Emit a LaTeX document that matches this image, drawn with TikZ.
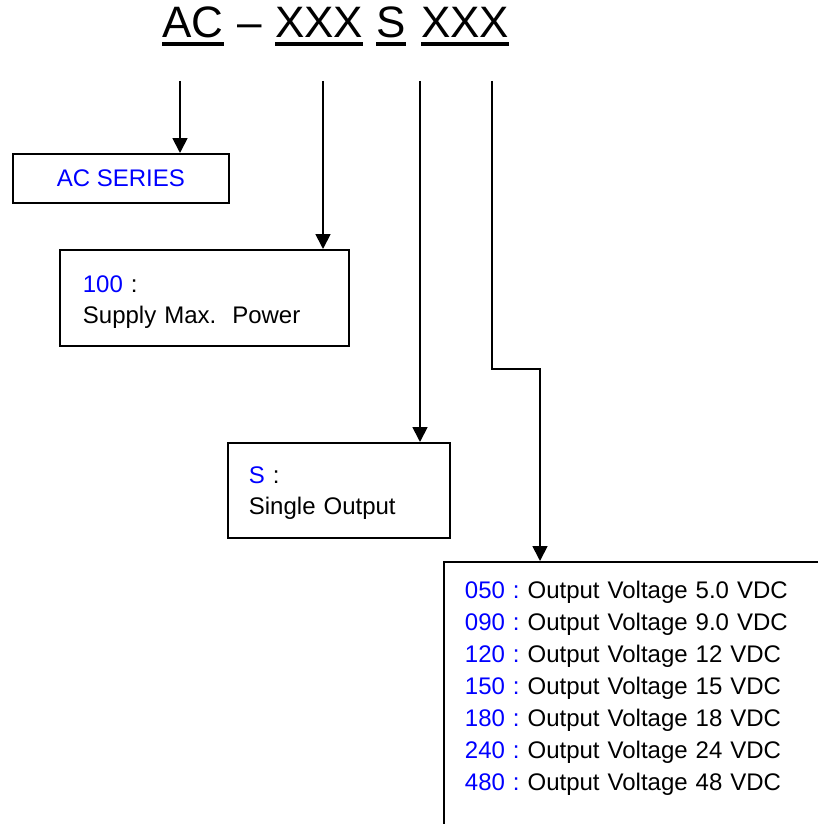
\documentclass[tikz,border=0pt]{standalone}
\usepackage{fontspec}
\setmainfont{Liberation Sans}
\frenchspacing
\usetikzlibrary{arrows.meta, positioning}
\tikzset{
  box/.style={draw=black, rectangle, line width=1.8pt, inner ysep=0pt, font=\fontsize{24}{31}\selectfont},
  codebox/.style={box, anchor=north west, align=left, inner xsep=21pt, text height=42pt, text depth=54pt},
  part/.style={anchor=base west, inner sep=0pt, font=\fontsize{44}{50}\selectfont},
  uline/.style={line width=4pt},
  arrow/.style={-{Triangle[length=15pt, width=15pt]}, line width=1.8pt, draw=black}
}
\newcommand{\cd}[1]{\textcolor{blue}{#1}}

\begin{document}
\begin{tikzpicture}[x=1pt, y=-1pt]
\useasboundingbox (0,0) rectangle (817,824);

% model code
\node[part] (ac) at (162,38) {AC};
\node[part] (dash) at (237,38) {–};
\node[part] (xa) at (275,38) {XXX};
\node[part] (sgl) at (376,38) {S};
\node[part] (xb) at (421,38) {XXX};
\foreach \n in {ac,xa,sgl,xb}
  \draw[uline] ([yshift=-6.5pt]\n.base west) -- ([yshift=-6.5pt]\n.base east);

% boxes
\node[box, anchor=north west, minimum width=216pt, minimum height=49pt, text=blue] (series) at (12,153) {AC SERIES};
\node[codebox, inner xsep=23pt, text width=243pt, text height=43pt, text depth=53pt] (power) at (59,249) {\cd{100} :\\Supply Max.\ \ Power};
\node[codebox, text width=180pt, text height=41pt, text depth=54pt] (output) at (227,442) {\cd{S} :\\Single Output};
\node[codebox, text width=360pt, text height=37pt, text depth=250pt, font=\fontsize{24}{32}\selectfont] (volt) at (443,561) {\cd{050 :} Output Voltage 5.0 VDC\\
\cd{090 :} Output Voltage 9.0 VDC\\
\cd{120 :} Output Voltage 12 VDC\\
\cd{150 :} Output Voltage 15 VDC\\
\cd{180 :} Output Voltage 18 VDC\\
\cd{240 :} Output Voltage 24 VDC\\
\cd{480 :} Output Voltage 48 VDC};

% arrows
\coordinate (a1) at (180,81);
\coordinate (a2) at (323,81);
\coordinate (a3) at (420,81);
\coordinate (a4) at (492,81);
\coordinate (bend) at (540,369);
\draw[arrow] (a1) -- (a1 |- series.north);
\draw[arrow] (a2) -- (a2 |- power.north);
\draw[arrow] (a3) -- (a3 |- output.north);
\draw[arrow] (a4) |- (bend) -- (bend |- volt.north);

\end{tikzpicture}
\end{document}
